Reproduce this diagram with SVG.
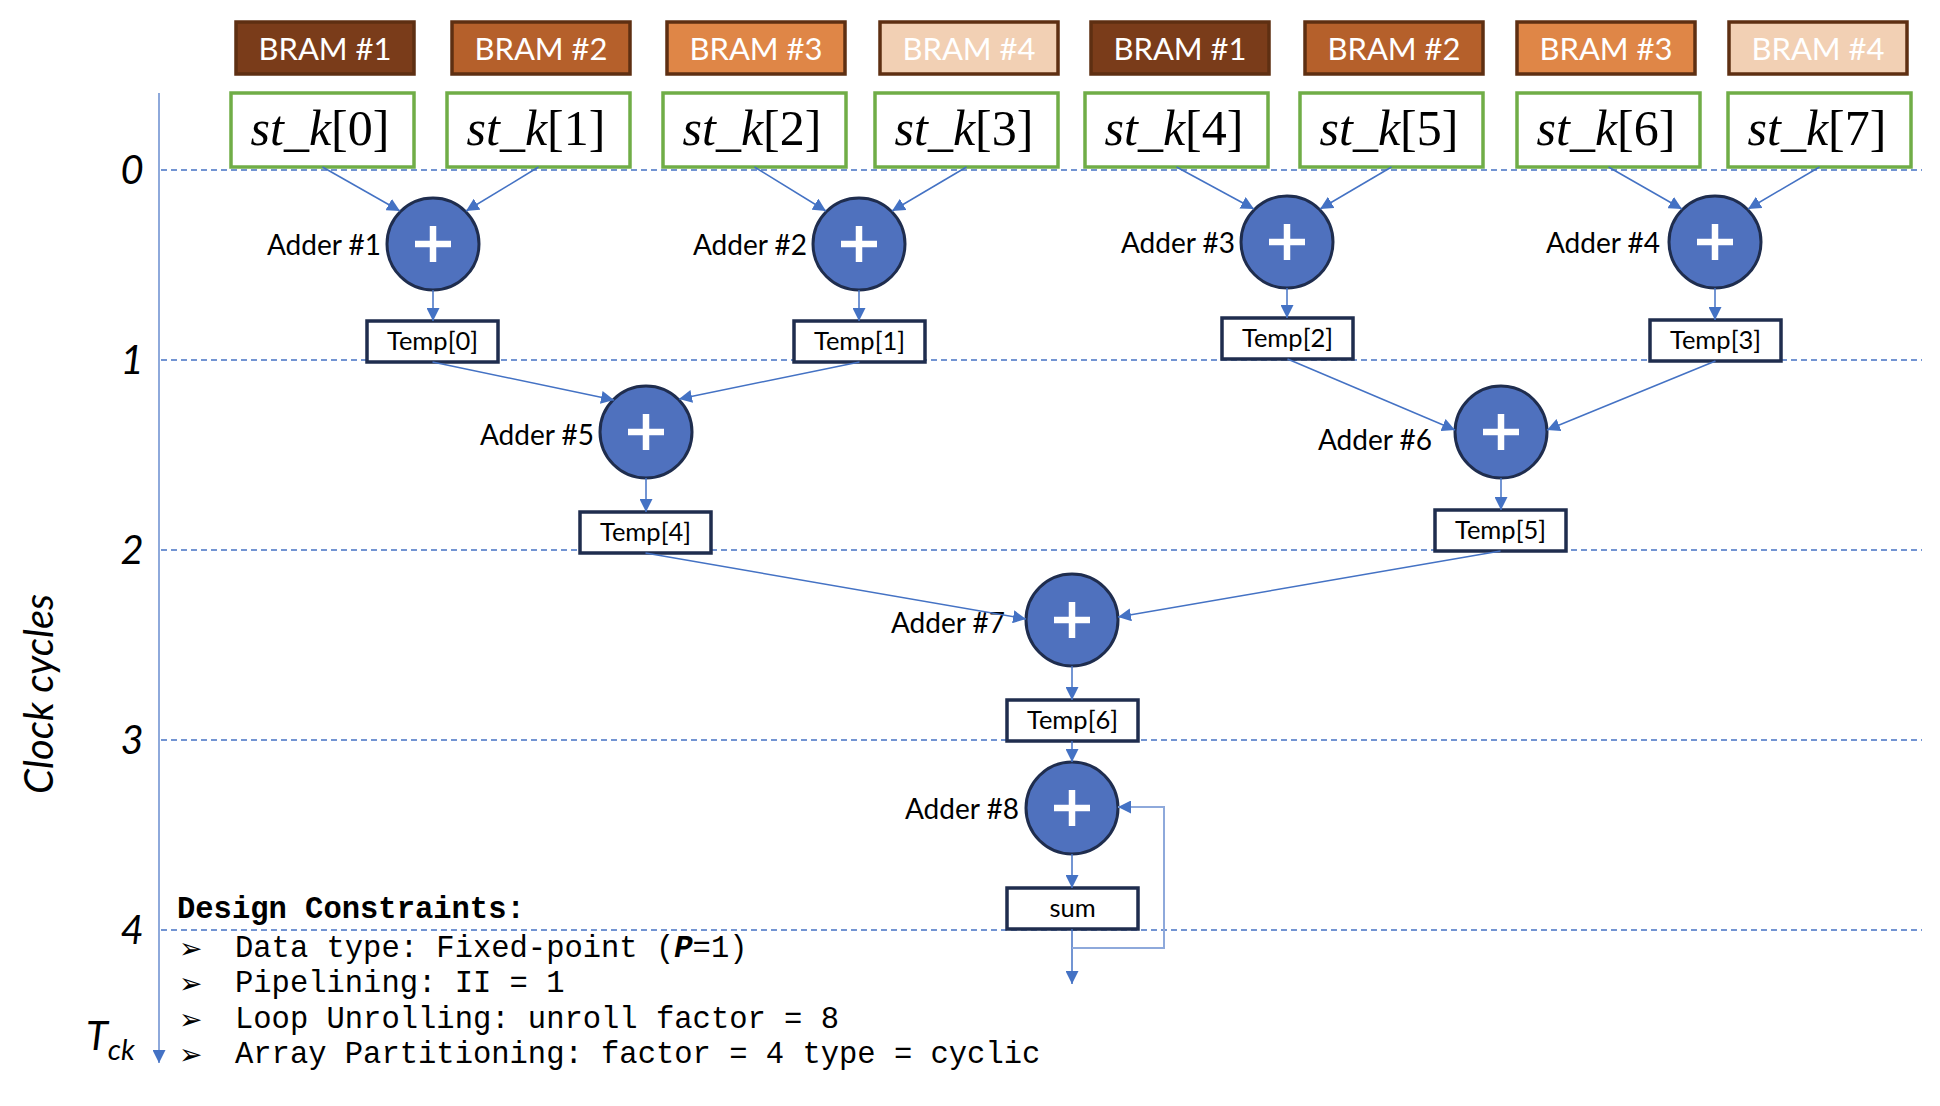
<svg xmlns="http://www.w3.org/2000/svg" width="1940" height="1106" viewBox="0 0 1940 1106">
<defs>
<style>
.bram{stroke:#5E2F12;stroke-width:3.5}
.bt{font-family:Lato,"Liberation Sans",sans-serif;font-size:31px;fill:#fff;text-anchor:middle}
.sk{fill:#fff;stroke:#70AD47;stroke-width:3.5}
.skt{font-family:"Liberation Serif",serif;font-size:50px;fill:#000;text-anchor:middle}
.add{fill:#4F71BE;stroke:#1F2D4E;stroke-width:3}
.plus{stroke:#fff;stroke-width:6.5;fill:none}
.al{font-family:Lato,"Liberation Sans",sans-serif;font-size:28px;fill:#000;text-anchor:end}
.tb{fill:#fff;stroke:#1F2D4E;stroke-width:3.5}
.tt{font-family:Lato,"Liberation Sans",sans-serif;font-size:25.5px;fill:#000;text-anchor:middle}
.dash{stroke:#4472C4;stroke-width:1.5;stroke-dasharray:6 4;fill:none}
.c{stroke:#4472C4;stroke-width:1.5;fill:none;marker-end:url(#arr)}
.ax{font-family:Lato,"Liberation Sans",sans-serif;font-style:italic;font-size:40px;fill:#000;text-anchor:middle}
.mono{font-family:"Liberation Mono",monospace;font-size:30.5px;fill:#000}
.bul{font-family:"DejaVu Sans",sans-serif;font-size:28px;font-weight:bold;fill:#000}
</style>
<marker id="arr" viewBox="0 0 13 13" refX="13" refY="6.5" markerWidth="13" markerHeight="13" markerUnits="userSpaceOnUse" orient="auto">
<path d="M0,0 L13,6.5 L0,13 z" fill="#4472C4"/>
</marker>
</defs>
<rect width="1940" height="1106" fill="#fff"/>

<g id="levels">
<line class="dash" x1="161" y1="170" x2="1922" y2="170"/>
<line class="dash" x1="161" y1="360" x2="1922" y2="360"/>
<line class="dash" x1="161" y1="550" x2="1922" y2="550"/>
<line class="dash" x1="161" y1="740" x2="1922" y2="740"/>
<line class="dash" x1="161" y1="930" x2="1922" y2="930"/>
</g>

<g id="axis">
<line x1="159" y1="93" x2="159" y2="1063" stroke="#8EA9DB" stroke-width="2" marker-end="url(#arr)"/>
<text class="ax" x="132" y="184">0</text>
<text class="ax" x="132" y="374">1</text>
<text class="ax" x="132" y="564">2</text>
<text class="ax" x="132" y="754">3</text>
<text class="ax" x="132" y="944">4</text>
<text class="ax" transform="translate(53,694) rotate(-90)">Clock cycles</text>
<text x="86" y="1050" font-family="Lato,'Liberation Sans',sans-serif" font-style="italic" font-size="40" fill="#000">T<tspan font-size="29" dy="10">ck</tspan></text>
</g>

<g id="bram-row">
<g id="bram1a"><rect class="bram" x="236" y="22" width="178" height="52" fill="#7A3C1A"/><text class="bt" x="325" y="60">BRAM #1</text></g>
<g id="bram2a"><rect class="bram" x="452" y="22" width="178" height="52" fill="#B5602B"/><text class="bt" x="541" y="60">BRAM #2</text></g>
<g id="bram3a"><rect class="bram" x="667" y="22" width="178" height="52" fill="#DF8647"/><text class="bt" x="756" y="60">BRAM #3</text></g>
<g id="bram4a"><rect class="bram" x="880" y="22" width="178" height="52" fill="#F2D0B4"/><text class="bt" x="969" y="60">BRAM #4</text></g>
<g id="bram1b"><rect class="bram" x="1091" y="22" width="178" height="52" fill="#7A3C1A"/><text class="bt" x="1180" y="60">BRAM #1</text></g>
<g id="bram2b"><rect class="bram" x="1305" y="22" width="178" height="52" fill="#B5602B"/><text class="bt" x="1394" y="60">BRAM #2</text></g>
<g id="bram3b"><rect class="bram" x="1517" y="22" width="178" height="52" fill="#DF8647"/><text class="bt" x="1606" y="60">BRAM #3</text></g>
<g id="bram4b"><rect class="bram" x="1729" y="22" width="178" height="52" fill="#F2D0B4"/><text class="bt" x="1818" y="60">BRAM #4</text></g>
</g>

<g id="st_k0"><rect class="sk" x="231" y="93" width="183" height="74"/><text class="skt" x="320" y="145"><tspan font-style="italic">st_k</tspan>[0]</text></g>
<g id="st_k1"><rect class="sk" x="447" y="93" width="183" height="74"/><text class="skt" x="536" y="145"><tspan font-style="italic">st_k</tspan>[1]</text></g>
<g id="st_k2"><rect class="sk" x="663" y="93" width="183" height="74"/><text class="skt" x="752" y="145"><tspan font-style="italic">st_k</tspan>[2]</text></g>
<g id="st_k3"><rect class="sk" x="875" y="93" width="183" height="74"/><text class="skt" x="964" y="145"><tspan font-style="italic">st_k</tspan>[3]</text></g>
<g id="st_k4"><rect class="sk" x="1085" y="93" width="183" height="74"/><text class="skt" x="1174" y="145"><tspan font-style="italic">st_k</tspan>[4]</text></g>
<g id="st_k5"><rect class="sk" x="1300" y="93" width="183" height="74"/><text class="skt" x="1389" y="145"><tspan font-style="italic">st_k</tspan>[5]</text></g>
<g id="st_k6"><rect class="sk" x="1517" y="93" width="183" height="74"/><text class="skt" x="1606" y="145"><tspan font-style="italic">st_k</tspan>[6]</text></g>
<g id="st_k7"><rect class="sk" x="1728" y="93" width="183" height="74"/><text class="skt" x="1817" y="145"><tspan font-style="italic">st_k</tspan>[7]</text></g>

<g id="adder1"><circle class="add" cx="433" cy="244" r="46"/><path class="plus" d="M415,244H451M433,226V262"/><text class="al" x="381" y="255">Adder #1</text></g>
<g id="adder2"><circle class="add" cx="859" cy="244" r="46"/><path class="plus" d="M841,244H877M859,226V262"/><text class="al" x="807" y="255">Adder #2</text></g>
<g id="adder3"><circle class="add" cx="1287" cy="242" r="46"/><path class="plus" d="M1269,242H1305M1287,224V260"/><text class="al" x="1235" y="253">Adder #3</text></g>
<g id="adder4"><circle class="add" cx="1715" cy="242" r="46"/><path class="plus" d="M1697,242H1733M1715,224V260"/><text class="al" x="1660" y="253">Adder #4</text></g>
<g id="adder5"><circle class="add" cx="646" cy="432" r="46"/><path class="plus" d="M628,432H664M646,414V450"/><text class="al" x="594" y="445">Adder #5</text></g>
<g id="adder6"><circle class="add" cx="1501" cy="432" r="46"/><path class="plus" d="M1483,432H1519M1501,414V450"/><text class="al" x="1432" y="450">Adder #6</text></g>
<g id="adder7"><circle class="add" cx="1072" cy="620" r="46"/><path class="plus" d="M1054,620H1090M1072,602V638"/><text class="al" x="1005" y="633">Adder #7</text></g>
<g id="adder8"><circle class="add" cx="1072" cy="808" r="46"/><path class="plus" d="M1054,808H1090M1072,790V826"/><text class="al" x="1019" y="819">Adder #8</text></g>

<g id="temp0"><rect class="tb" x="367" y="321" width="131" height="41"/><text class="tt" x="432.5" y="350">Temp[0]</text></g>
<g id="temp1"><rect class="tb" x="794" y="321" width="131" height="41"/><text class="tt" x="859.5" y="350">Temp[1]</text></g>
<g id="temp2"><rect class="tb" x="1222" y="318" width="131" height="41"/><text class="tt" x="1287.5" y="347">Temp[2]</text></g>
<g id="temp3"><rect class="tb" x="1650" y="320" width="131" height="41"/><text class="tt" x="1715.5" y="349">Temp[3]</text></g>
<g id="temp4"><rect class="tb" x="580" y="512" width="131" height="41"/><text class="tt" x="645.5" y="541">Temp[4]</text></g>
<g id="temp5"><rect class="tb" x="1435" y="510" width="131" height="41"/><text class="tt" x="1500.5" y="539">Temp[5]</text></g>
<g id="temp6"><rect class="tb" x="1007" y="700" width="131" height="41"/><text class="tt" x="1072.5" y="729">Temp[6]</text></g>
<g id="sum"><rect class="tb" x="1007" y="888" width="131" height="41"/><text class="tt" x="1072.5" y="917">sum</text></g>

<g id="connectors">
<line class="c" x1="322.5" y1="167" x2="400" y2="211"/>
<line class="c" x1="538.5" y1="167" x2="466" y2="211"/>
<line class="c" x1="754.5" y1="167" x2="826" y2="211"/>
<line class="c" x1="966.5" y1="167" x2="892" y2="211"/>
<line class="c" x1="1176.5" y1="167" x2="1254" y2="209"/>
<line class="c" x1="1391.5" y1="167" x2="1320" y2="209"/>
<line class="c" x1="1608.5" y1="167" x2="1682" y2="209"/>
<line class="c" x1="1819.5" y1="167" x2="1748" y2="209"/>
<line class="c" x1="433" y1="290" x2="433" y2="321"/>
<line class="c" x1="859" y1="290" x2="859" y2="321"/>
<line class="c" x1="1287" y1="288" x2="1287" y2="318"/>
<line class="c" x1="1715" y1="288" x2="1715" y2="320"/>
<line class="c" x1="432.5" y1="362" x2="614" y2="400"/>
<line class="c" x1="859.5" y1="362" x2="679" y2="399"/>
<line class="c" x1="1287.5" y1="359" x2="1455" y2="430"/>
<line class="c" x1="1715.5" y1="361" x2="1547" y2="430"/>
<line class="c" x1="646" y1="478" x2="646" y2="512"/>
<line class="c" x1="1501" y1="478" x2="1501" y2="510"/>
<line class="c" x1="645.5" y1="553" x2="1026" y2="619"/>
<line class="c" x1="1500.5" y1="551" x2="1118" y2="617"/>
<line class="c" x1="1072" y1="666" x2="1072" y2="700"/>
<line class="c" x1="1072" y1="741" x2="1072" y2="762"/>
<line class="c" x1="1072" y1="854" x2="1072" y2="888"/>
<line class="c" x1="1072" y1="929" x2="1072" y2="984"/>
<polyline points="1072,948 1164,948 1164,807 1118,807" stroke="#8EA9DB" stroke-width="2" fill="none" marker-end="url(#arr)"/>
</g>

<g id="constraints">
<text class="mono" x="177" y="918" font-weight="bold">Design Constraints:</text>
<text class="bul" x="179" y="958">➢</text>
<text class="mono" x="235" y="957">Data type: Fixed-point (<tspan font-weight="bold" font-style="italic">P</tspan>=1)</text>
<text class="bul" x="179" y="993">➢</text>
<text class="mono" x="235" y="992">Pipelining: II = 1</text>
<text class="bul" x="179" y="1029">➢</text>
<text class="mono" x="235" y="1028">Loop Unrolling: unroll factor = 8</text>
<text class="bul" x="179" y="1064">➢</text>
<text class="mono" x="235" y="1063">Array Partitioning: factor = 4 type = cyclic</text>
</g>
</svg>
